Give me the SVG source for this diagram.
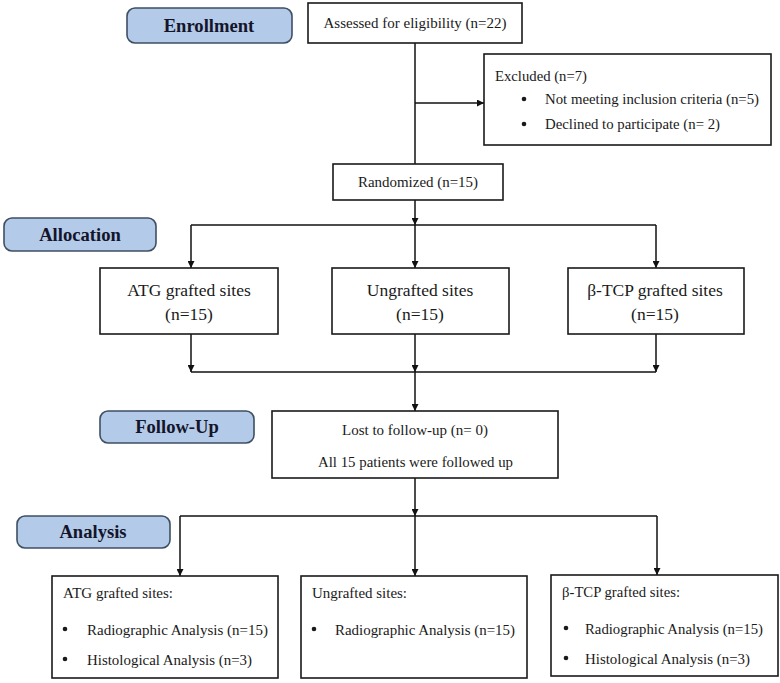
<svg xmlns="http://www.w3.org/2000/svg" width="780" height="683" viewBox="0 0 780 683">
<defs>
<marker id="arr" viewBox="0 0 10 10" refX="10" refY="5" markerWidth="7" markerHeight="7" markerUnits="userSpaceOnUse" orient="auto">
<path d="M0,0 L10,5 L0,10 Z" fill="#111"/>
</marker>
<style>
.box{fill:#fff;stroke:#1a1a1a;stroke-width:1.6}
.pill{fill:#b3cbe8;stroke:#3f4f63;stroke-width:1.6}
.t{font-family:"Liberation Serif","Times New Roman",serif;font-size:15.5px;fill:#1a1a1a}
.s{font-size:15px}
.tb{font-family:"Liberation Serif","Times New Roman",serif;font-size:17.5px;fill:#1a1a1a;text-anchor:middle}
.ph{font-family:"Liberation Serif","Times New Roman",serif;font-size:18.6px;font-weight:bold;fill:#14142a;text-anchor:middle}
.c{text-anchor:middle}
.ln{fill:none;stroke:#111;stroke-width:1.5}
.bul{fill:#1a1a1a}
</style>
</defs>
<rect width="780" height="683" fill="#fff"/>

<g id="connectors">
<line class="ln" x1="415" y1="43" x2="415" y2="164"/>
<line class="ln" x1="415" y1="103" x2="484" y2="103" marker-end="url(#arr)"/>
<line class="ln" x1="415" y1="200" x2="415" y2="225" marker-end="url(#arr)"/>
<line class="ln" x1="191" y1="225" x2="656" y2="225"/>
<line class="ln" x1="191" y1="225" x2="191" y2="268" marker-end="url(#arr)"/>
<line class="ln" x1="415" y1="225" x2="415" y2="268" marker-end="url(#arr)"/>
<line class="ln" x1="656" y1="225" x2="656" y2="268" marker-end="url(#arr)"/>
<line class="ln" x1="191" y1="334" x2="191" y2="372" marker-end="url(#arr)"/>
<line class="ln" x1="415" y1="334" x2="415" y2="372" marker-end="url(#arr)"/>
<line class="ln" x1="656" y1="334" x2="656" y2="372" marker-end="url(#arr)"/>
<line class="ln" x1="191" y1="372" x2="656" y2="372"/>
<line class="ln" x1="415" y1="372" x2="415" y2="411" marker-end="url(#arr)"/>
<line class="ln" x1="415" y1="478" x2="415" y2="516" marker-end="url(#arr)"/>
<line class="ln" x1="180" y1="516" x2="657" y2="516"/>
<line class="ln" x1="180" y1="516" x2="180" y2="576" marker-end="url(#arr)"/>
<line class="ln" x1="415" y1="516" x2="415" y2="576" marker-end="url(#arr)"/>
<line class="ln" x1="657" y1="516" x2="657" y2="575" marker-end="url(#arr)"/>
</g>

<g id="enrollment">
<rect class="pill" x="127" y="8" width="165" height="35" rx="8"/>
<text class="ph" x="209" y="32">Enrollment</text>
</g>
<g id="allocation">
<rect class="pill" x="4" y="218" width="152" height="33" rx="8"/>
<text class="ph" x="80" y="241">Allocation</text>
</g>
<g id="followup">
<rect class="pill" x="100" y="411" width="154" height="32" rx="8"/>
<text class="ph" x="177" y="433">Follow-Up</text>
</g>
<g id="analysis">
<rect class="pill" x="17" y="516" width="153" height="32" rx="8"/>
<text class="ph" x="93" y="538">Analysis</text>
</g>

<g id="assessed">
<rect class="box" x="308" y="3" width="214" height="40"/>
<text class="t c" x="415" y="28" textLength="183" lengthAdjust="spacingAndGlyphs">Assessed for eligibility (n=22)</text>
</g>

<g id="excluded">
<rect class="box" x="484" y="54" width="287" height="91"/>
<text class="t" x="495" y="81" textLength="92" lengthAdjust="spacingAndGlyphs">Excluded (n=7)</text>
<circle class="bul" cx="524" cy="99" r="2.3"/>
<text class="t s" x="545" y="104" textLength="214" lengthAdjust="spacingAndGlyphs">Not meeting inclusion criteria (n=5)</text>
<circle class="bul" cx="524" cy="124" r="2.3"/>
<text class="t" x="545" y="129" textLength="175" lengthAdjust="spacingAndGlyphs">Declined to participate (n= 2)</text>
</g>

<g id="randomized">
<rect class="box" x="333" y="164" width="170" height="36"/>
<text class="t c" x="418" y="187" textLength="120" lengthAdjust="spacingAndGlyphs">Randomized (n=15)</text>
</g>

<g id="alloc-atg">
<rect class="box" x="100" y="268" width="178" height="66"/>
<text class="tb" x="189" y="296">ATG grafted sites</text>
<text class="tb" x="189" y="320">(n=15)</text>
</g>
<g id="alloc-ungrafted">
<rect class="box" x="332" y="268" width="177" height="66"/>
<text class="tb" x="420" y="296">Ungrafted sites</text>
<text class="tb" x="420" y="320">(n=15)</text>
</g>
<g id="alloc-btcp">
<rect class="box" x="568" y="268" width="176" height="66"/>
<text class="tb" x="655" y="296">β-TCP grafted sites</text>
<text class="tb" x="655" y="320">(n=15)</text>
</g>

<g id="lost">
<rect class="box" x="272" y="411" width="286" height="67"/>
<text class="t c" x="415" y="435" textLength="146" lengthAdjust="spacingAndGlyphs">Lost to follow-up (n= 0)</text>
<text class="t c" x="415.5" y="467" textLength="195" lengthAdjust="spacingAndGlyphs">All 15 patients were followed up</text>
</g>

<g id="analysis-atg">
<rect class="box" x="52" y="576" width="226" height="102"/>
<text class="t" x="63" y="598" textLength="110" lengthAdjust="spacingAndGlyphs">ATG grafted sites:</text>
<circle class="bul" cx="65" cy="629" r="2.3"/>
<text class="t" x="87" y="635" textLength="181" lengthAdjust="spacingAndGlyphs">Radiographic Analysis (n=15)</text>
<circle class="bul" cx="65" cy="659" r="2.3"/>
<text class="t" x="87" y="665" textLength="165" lengthAdjust="spacingAndGlyphs">Histological Analysis (n=3)</text>
</g>
<g id="analysis-ungrafted">
<rect class="box" x="301" y="576" width="226" height="102"/>
<text class="t" x="312" y="598" textLength="95" lengthAdjust="spacingAndGlyphs">Ungrafted sites:</text>
<circle class="bul" cx="314" cy="629" r="2.3"/>
<text class="t" x="335" y="635" textLength="180" lengthAdjust="spacingAndGlyphs">Radiographic Analysis (n=15)</text>
</g>
<g id="analysis-btcp">
<rect class="box" x="551" y="575" width="227" height="101"/>
<text class="t" x="562" y="597" textLength="118" lengthAdjust="spacingAndGlyphs">β-TCP grafted sites:</text>
<circle class="bul" cx="566" cy="628" r="2.3"/>
<text class="t" x="585" y="634" textLength="178" lengthAdjust="spacingAndGlyphs">Radiographic Analysis (n=15)</text>
<circle class="bul" cx="566" cy="658" r="2.3"/>
<text class="t" x="585" y="664" textLength="165" lengthAdjust="spacingAndGlyphs">Histological Analysis (n=3)</text>
</g>
</svg>
